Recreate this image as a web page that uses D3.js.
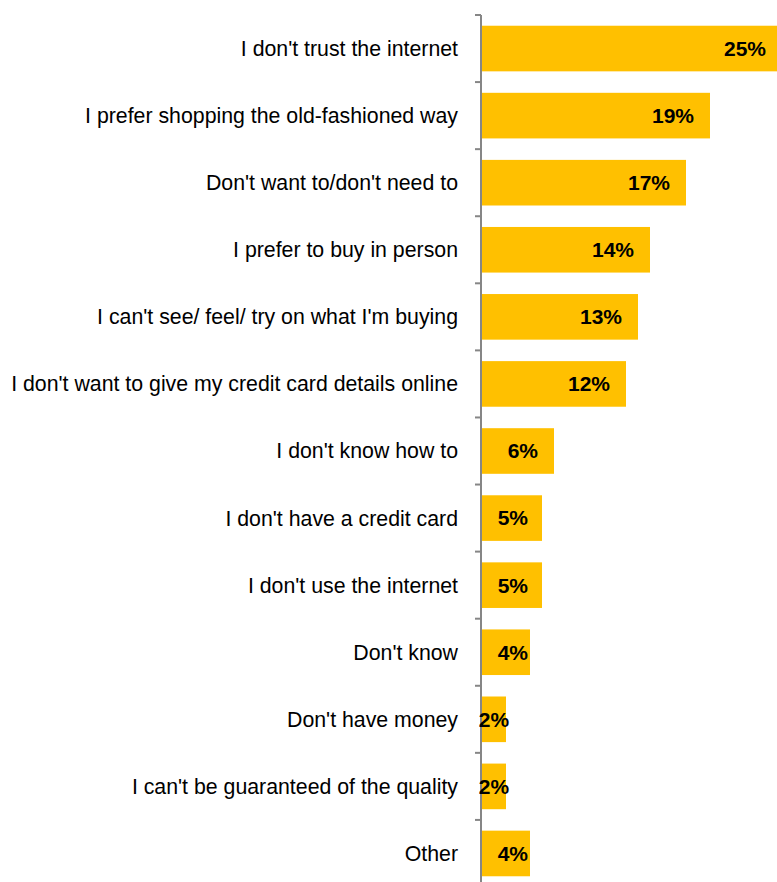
<!DOCTYPE html>
<html>
<head>
<meta charset="utf-8">
<script src="https://cdn.jsdelivr.net/npm/d3@7"></script>
<style>
  html, body { margin: 0; padding: 0; background: #fff; }
  svg { display: block; }
</style>
</head>
<body>
<svg id="chart" width="777" height="882"></svg>
<script>
// Reasons for not shopping online (% of respondents)
const categories = [
  "I don't trust the internet",
  "I prefer shopping the old-fashioned way",
  "Don't want to/don't need to",
  "I prefer to buy in person",
  "I can't see/ feel/ try on what I'm buying",
  "I don't want to give my credit card details online",
  "I don't know how to",
  "I don't have a credit card",
  "I don't use the internet",
  "Don't know",
  "Don't have money",
  "I can't be guaranteed of the quality",
  "Other"
];
const values = [25, 19, 17, 14, 13, 12, 6, 5, 5, 4, 2, 2, 4];

const svg = d3.select("#chart");
const W = 777, H = 882;
const x0 = 482;          // bar baseline
const axisX = 481;

const x = d3.scaleLinear().domain([0, 25]).range([x0, 782]);
const y = d3.scaleBand().domain(categories).range([15, 887]).paddingInner(0.32).paddingOuter(0.16);

const font = "'Liberation Sans', Arial, Helvetica, sans-serif";

// bars
svg.append("g").selectAll("rect")
  .data(values)
  .join("rect")
  .attr("x", x0)
  .attr("y", (d, i) => y(categories[i]))
  .attr("width", d => x(d) - x0)
  .attr("height", y.bandwidth())
  .attr("fill", "#FFC000");

// category axis on the left of the bars
const axis = d3.axisLeft(y).tickSize(0).tickFormat(d => d).tickPadding(23);
const gAxis = svg.append("g").attr("transform", `translate(${axisX},0)`).call(axis);
gAxis.select(".domain").remove();
gAxis.selectAll("text")
  .attr("font-family", font)
  .attr("font-size", 21.3)
  .attr("fill", "#000")
  .attr("dy", "0.35em");

// axis line and boundary ticks between categories
svg.append("line")
  .attr("x1", axisX).attr("x2", axisX)
  .attr("y1", 15).attr("y2", H)
  .attr("stroke", "#868686").attr("stroke-width", 2);
const step = y.step();
const boundaries = d3.range(categories.length + 1).map(k => y.range()[0] + k * step);
svg.append("g").selectAll("line")
  .data(boundaries)
  .join("line")
  .attr("x1", axisX - 6).attr("x2", axisX)
  .attr("y1", d => d).attr("y2", d => d)
  .attr("stroke", "#868686").attr("stroke-width", 2);

// value labels
const labels = svg.append("g").selectAll("text")
  .data(values)
  .join("text")
  .attr("y", (d, i) => y(categories[i]) + y.bandwidth() / 2)
  .attr("dy", "0.35em")
  .attr("font-family", font)
  .attr("font-size", 21)
  .attr("font-weight", "bold")
  .attr("fill", "#000")
  .text(d => d + "%");

labels.each(function(d) {
  const tw = this.getComputedTextLength();
  const barW = x(d) - x0;
  const t = d3.select(this);
  if (tw > barW) {
    t.attr("text-anchor", "middle").attr("x", x0 + barW / 2);
  } else {
    t.attr("text-anchor", "end").attr("x", Math.max(x(d) - 16, x0 + 46));
  }
});
</script>
</body>
</html>
